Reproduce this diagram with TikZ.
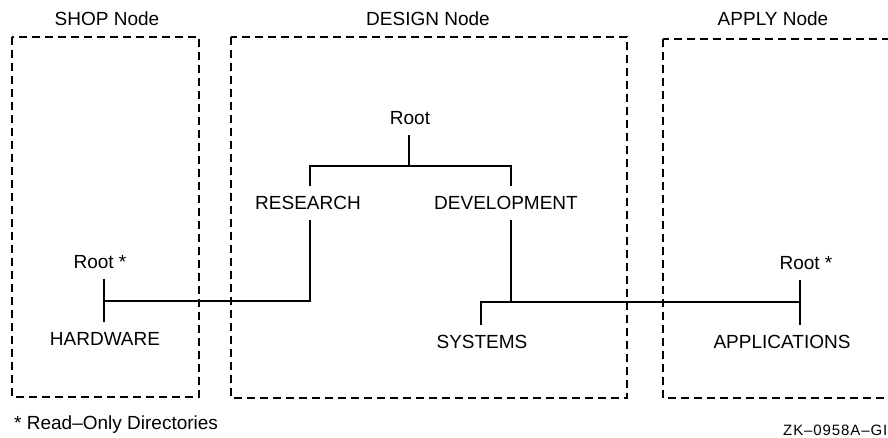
\documentclass[tikz,border=0pt]{standalone}
\usepackage{fontspec}
\setmainfont{Liberation Sans}
\begin{document}
\begin{tikzpicture}[x=1pt,y=-1pt,
  lbl/.style={font=\fontsize{19}{22}\selectfont, inner sep=0pt, text height=13.7pt, text depth=0pt},
  tlbl/.style={lbl, outer sep=10pt},
  box/.style={draw, line width=1.8pt, dash pattern=on 8pt off 5pt},
  link/.style={draw, line width=1.8pt}]
\useasboundingbox (0,0) rectangle (888,438);
\fill[white] (0,0) rectangle (888,438);
% node boxes
\draw[box] (12,37) rectangle (199,397);
\draw[box] (231,37) rectangle (627,398);
\begin{scope}
  \clip (0,0) rectangle (888,438);
  \draw[box] (663,39) rectangle (905,398);
\end{scope}
% titles
\node[lbl] (shopt) at (107,19) {SHOP Node};
\node[lbl] (dest) at (428,19) {DESIGN Node};
\node[lbl] (appt) at (773,19) {APPLY Node};
% tree labels
\node[tlbl] (droot) at (410,118) {Root};
\node[tlbl] (research) at (308,203) {RESEARCH};
\node[tlbl] (dev) at (506,203) {DEVELOPMENT};
\node[tlbl] (shoproot) at (100,262) {Root *};
\node[tlbl] (hardware) at (105,339) {HARDWARE};
\node[tlbl] (systems) at (482,342) {SYSTEMS};
\node[tlbl] (applyroot) at (806,263) {Root *};
\node[tlbl] (applications) at (782,342) {APPLICATIONS};
% junctions
\coordinate (dtop) at (409,166);
\coordinate (dl) at (310,166);
\coordinate (dr) at (511,166);
\coordinate (rj) at (310,301);
\coordinate (hj) at (104,301);
\coordinate (vj) at (511,302);
\coordinate (sj) at (481,302);
\coordinate (aj) at (800,302);
% connectors
\draw[link] (droot.south -| dtop) -- (dtop);
\draw[link] (research.north -| dl) -- (dl) -- (dr) -- (dev.north -| dr);
\draw[link] (research.south -| rj) -- (rj) -- (hj);
\draw[link] (shoproot.south -| hj) -- (hardware.north -| hj);
\draw[link] (dev.south -| vj) -- (vj);
\draw[link] (systems.north -| sj) -- (sj) -- (aj);
\draw[link] (applyroot.south -| aj) -- (applications.north -| aj);
% footnotes
\node[lbl, anchor=west] (note) at (14,423) {* Read--Only Directories};
\node[font=\fontsize{15}{18}\selectfont\addfontfeature{LetterSpace=6}, inner sep=0pt, anchor=west] (fig) at (783,430) {ZK--0958A--GI};
\end{tikzpicture}
\end{document}
